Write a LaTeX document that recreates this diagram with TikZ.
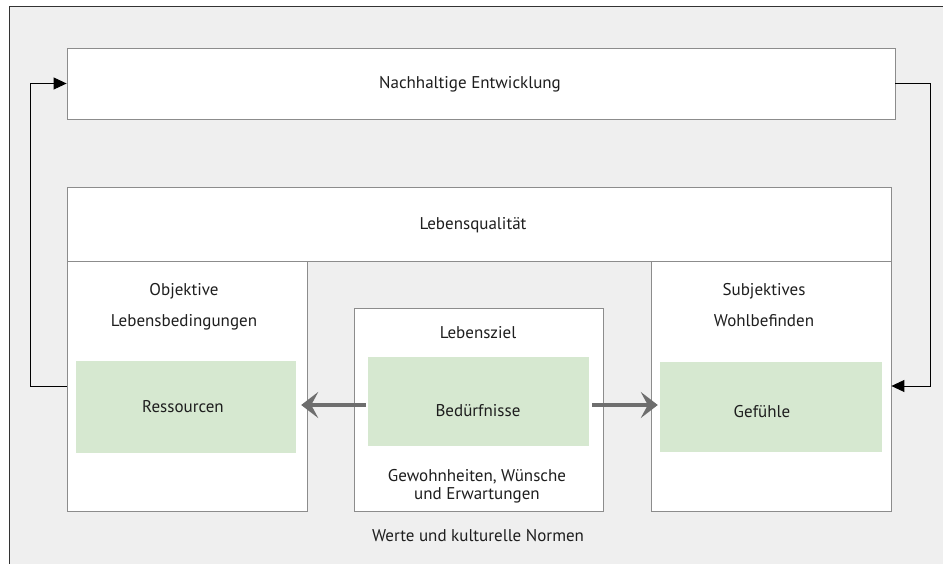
\documentclass[tikz,border=0pt]{standalone}
\usepackage{fontspec}
\setmainfont{PT Sans}
\usetikzlibrary{arrows.meta}
\definecolor{bggray}{HTML}{EFEFEF}
\definecolor{boxline}{HTML}{8C8C8C}
\definecolor{paleg}{HTML}{D6E8D0}
\definecolor{txt}{HTML}{1E1E1E}
\definecolor{arrg}{HTML}{6E6E6E}
\tikzset{
  wbox/.style={draw=boxline, line width=0.8pt, fill=white, rectangle, inner sep=0pt},
  gbox/.style={fill=paleg, draw=none, rectangle, inner sep=0pt},
  lbl/.style={text=txt, font=\fontsize{17}{18}\selectfont, inner sep=0pt, align=center},
  lbltwo/.style={text=txt, font=\fontsize{17}{31}\selectfont, inner sep=0pt, align=center},
  conn/.style={draw=black, line width=0.9pt, -{Triangle[length=13pt,width=12pt]}},
  garrow/.style={draw=arrg, line width=4pt, -{Stealth[length=17pt,width=26pt,inset=7pt]}}
}
\begin{document}
\begin{tikzpicture}[x=1pt,y=-1pt]
\useasboundingbox (0,0) rectangle (943,564);
\fill[white] (0,0) rectangle (943,564);
\fill[bggray] (9,7) rectangle (943,564);
\draw[line width=1pt, black!80] (9,564) -- (9,7) -- (943,7);

% boxes
\node[wbox, minimum width=828pt, minimum height=71pt] (ne) at (481,83.5) {};
\node[wbox, minimum width=824pt, minimum height=74pt] (lq) at (479,224) {};
\node[wbox, minimum width=240pt, minimum height=250pt] (obj) at (187,386) {};
\node[wbox, minimum width=240pt, minimum height=250pt] (subj) at (771,386) {};
\node[wbox, minimum width=249pt, minimum height=203pt] (mid) at (478.5,409.5) {};

% green boxes
\node[gbox, minimum width=220pt, minimum height=92pt] (res) at (186,407) {};
\node[gbox, minimum width=221pt, minimum height=89pt] (bed) at (478.5,401.5) {};
\node[gbox, minimum width=222pt, minimum height=90pt] (gef) at (771,407) {};

% texts
\node[lbl] (tne) at (470,84) {Nachhaltige Entwicklung};
\node[lbl] (tlq) at (473,225) {Lebensqualität};
\node[lbltwo] (tobj) at (184,306.5) {Objektive\\Lebensbedingungen};
\node[lbltwo] (tsubj) at (764,305) {Subjektives\\Wohlbefinden};
\node[lbl] (tlz) at (478,333) {Lebensziel};
\node[lbl] (tres) at (183,407) {Ressourcen};
\node[lbl] (tbed) at (478,411) {Bedürfnisse};
\node[lbl] (tgef) at (762,412) {Gefühle};
\node[lbl] (tgew) at (477,486) {Gewohnheiten, Wünsche\\und Erwartungen};
\node[lbl] (twer) at (478,536) {Werte und kulturelle Normen};

% connectors
\draw[conn] (obj.west) -- ++(-36,0) |- (ne.west);
\draw[conn] (ne.east) -- ++(35,0) |- (subj.east);
\draw[garrow] ([xshift=-2pt,yshift=-3.5pt]bed.west) -- ([xshift=5pt,yshift=2pt]res.east);
\draw[garrow] ([xshift=3pt,yshift=-3.5pt]bed.east) -- ([xshift=-2pt,yshift=2pt]gef.west);
\end{tikzpicture}
\end{document}
